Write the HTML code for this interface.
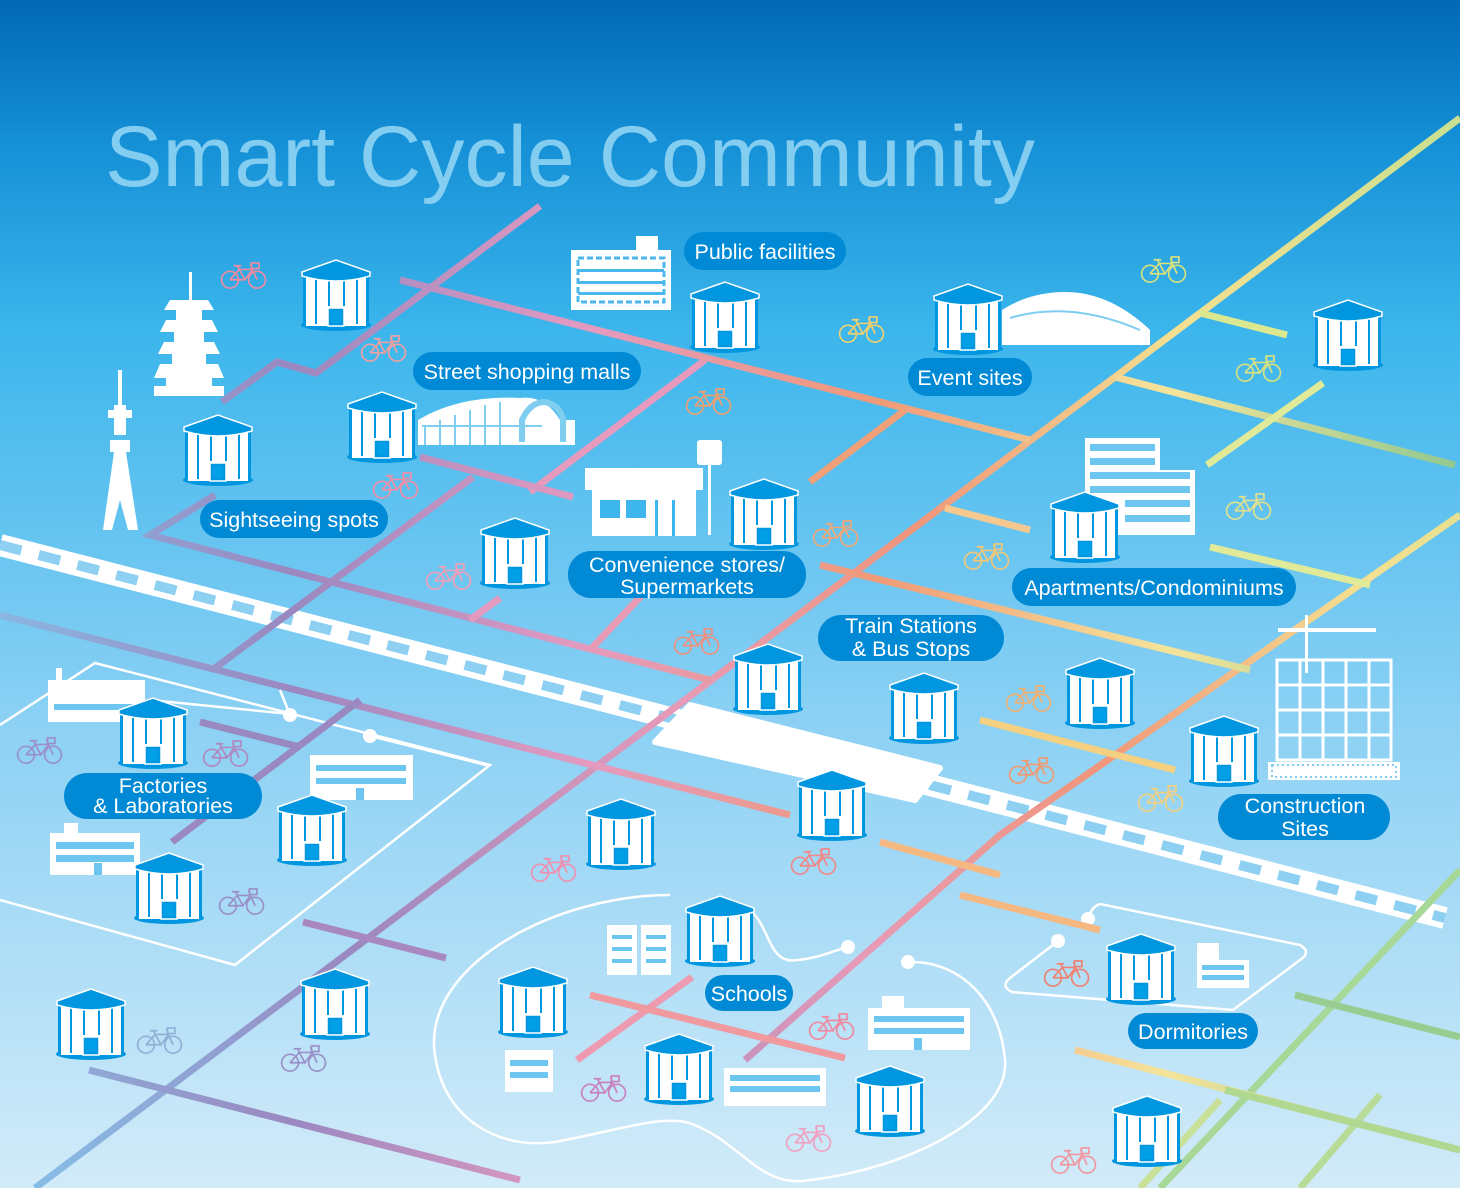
<!DOCTYPE html>
<html><head><meta charset="utf-8"><style>
html,body{margin:0;padding:0}
body{width:1460px;height:1188px;overflow:hidden;font-family:"Liberation Sans",Arial,sans-serif}
</style></head><body>
<svg width="1460" height="1188" viewBox="0 0 1460 1188" xmlns="http://www.w3.org/2000/svg" font-family="Liberation Sans, Arial, sans-serif">
<defs>
<linearGradient id="bg" x1="0" y1="0" x2="0" y2="1">
<stop offset="0" stop-color="#0068b4"/><stop offset="0.12" stop-color="#1590d6"/><stop offset="0.28" stop-color="#3cb6ec"/><stop offset="0.6" stop-color="#8ad0f4"/><stop offset="1" stop-color="#d2ebf9"/>
</linearGradient>
<linearGradient id="gY1" gradientUnits="userSpaceOnUse" x1="35" y1="1188" x2="1460" y2="118">
<stop offset="0" stop-color="#86bde6"/><stop offset="0.22" stop-color="#9a88c0"/><stop offset="0.45" stop-color="#e79ab8"/><stop offset="0.62" stop-color="#f0967a"/><stop offset="0.8" stop-color="#f5e090"/><stop offset="1" stop-color="#c8e090"/>
</linearGradient>
<linearGradient id="gH" gradientUnits="userSpaceOnUse" x1="0" y1="0" x2="1460" y2="0">
<stop offset="0" stop-color="#8ab6e0"/><stop offset="0.2" stop-color="#9a88c0"/><stop offset="0.4" stop-color="#e39ac0"/><stop offset="0.6" stop-color="#f09a78"/><stop offset="0.8" stop-color="#f5e49a"/><stop offset="1" stop-color="#90c890"/>
</linearGradient>
<symbol id="st" viewBox="0 0 72 74">
<ellipse cx="36" cy="67" rx="35" ry="6" fill="#0096e0"/>
<rect x="4" y="16" width="64" height="52" fill="#fff"/>
<rect x="3" y="16" width="3" height="52" fill="#0096e0"/><rect x="66" y="16" width="3" height="52" fill="#0096e0"/>
<rect x="15" y="20" width="2" height="46" fill="#0096e0"/><rect x="28" y="20" width="2" height="46" fill="#0096e0"/><rect x="43" y="20" width="2" height="46" fill="#0096e0"/><rect x="56" y="20" width="2" height="46" fill="#0096e0"/>
<path d="M2,14 L36,2 L70,14 L70,18 Q36,28 2,18 Z" fill="#0096e0" stroke="#fff" stroke-width="1.5"/>
<rect x="26" y="48" width="20" height="20" fill="#fff"/>
<rect x="28" y="50" width="16" height="18" fill="#0096e0" stroke="#fff" stroke-width="1.5"/>
<rect x="31" y="53" width="10" height="12" fill="#00a0e8"/>
</symbol>
<symbol id="bk" viewBox="0 0 50 30" overflow="visible">
<g fill="none" stroke="currentColor" stroke-width="1.8">
<circle cx="10" cy="19" r="9"/><circle cx="39" cy="19" r="9"/>
<path d="M10,19 L20,8 L34,8 L39,19 M20,8 L26,19 L34,8 M26,19 L10,19 M34,8 L32,2 M20,8 L18,4 M14,4 L22,4"/>
<rect x="33" y="1" width="8" height="6"/>
</g>
</symbol>
</defs>
<rect width="1460" height="1188" fill="url(#bg)"/>

<text x="105" y="186" font-size="86" fill="#8fd4f4" opacity="0.9" textLength="930" lengthAdjust="spacingAndGlyphs">Smart Cycle Community</text>

<g fill="none" stroke="#fff" stroke-width="2.5">
<path d="M0,725 L95,663 L490,765 L235,965 L0,900"/>
<path d="M1100,904 L1300,945 Q1312,952 1300,960 L1233,1010 L1012,992 Q1000,986 1010,978 L1058,941"/>
<path d="M1100,904 Q1092,906 1088,919"/>
<path d="M670,895 C560,895 430,960 434,1047 C440,1120 500,1150 555,1142 C620,1130 660,1115 689,1123 C740,1140 760,1190 810,1180 C900,1170 1010,1120 1005,1060 C1000,1000 960,962 912,962"/>
<path d="M753,913 C770,930 770,965 797,960 C820,958 835,950 848,947"/>
<path d="M280,690 L290,715 M150,700 L290,714"/>
<path d="M370,736 L490,766"/>
</g>
<g fill="#fff"><circle cx="290" cy="715" r="7"/><circle cx="370" cy="736" r="7"/><circle cx="848" cy="947" r="7"/><circle cx="908" cy="962" r="7"/><circle cx="1058" cy="941" r="7"/><circle cx="1088" cy="919" r="7"/></g>

<g>
<path d="M0,545 L1445,918" stroke="#fff" stroke-width="22"/>
<path d="M0,545 L1445,918" stroke="#8ed0f2" stroke-width="10" stroke-dasharray="22 18"/>
<polygon points="690,705 940,768 915,800 655,742" fill="#fff" stroke="#fff" stroke-width="6" stroke-linejoin="round"/>
</g>

<g fill="none" stroke-width="7" stroke-linecap="butt" stroke-linejoin="miter">
<path d="M35,1188 L1460,118" stroke="url(#gY1)"/>
<path d="M1460,515 L1000,835 L745,1060" stroke="url(#gY1)"/>
<path d="M1460,870 L1160,1188" stroke="#a8d898"/>
<path d="M1380,1095 L1300,1188" stroke="#b8dc98"/>
<path d="M540,206 L316,373 L277,362 L222,402" stroke="url(#gH)"/>
<path d="M215,495 L150,535 L710,680" stroke="url(#gH)"/>
<path d="M473,477 L215,668" stroke="url(#gH)"/>
<path d="M705,360 L530,492" stroke="#e69abe"/>
<path d="M500,598 L470,620" stroke="#e49ac0"/>
<path d="M645,592 L590,650" stroke="#e89ab4"/>
<path d="M400,280 L1030,440" stroke="url(#gH)"/>
<path d="M905,410 L810,482" stroke="#f0a078"/>
<path d="M0,615 L790,815" stroke="url(#gH)"/>
<path d="M420,457 L573,497" stroke="url(#gH)"/>
<path d="M820,565 L1250,670" stroke="url(#gH)"/>
<path d="M1115,377 L1455,465" stroke="url(#gH)"/>
<path d="M1200,313 L1287,335" stroke="#dce890"/>
<path d="M1323,383 L1207,465" stroke="#e0ea98"/>
<path d="M945,508 L1030,530" stroke="#f5c890"/>
<path d="M1210,547 L1370,585" stroke="#e0ea98"/>
<path d="M980,720 L1175,770" stroke="#f5d080"/>
<path d="M880,842 L1000,875 M960,895 L1100,930" stroke="#f5b880"/>
<path d="M360,700 L172,842" stroke="#9a88c0"/>
<path d="M200,722 L300,747" stroke="#9a88c0"/>
<path d="M303,922 L446,958" stroke="#a888c0"/>
<path d="M89,1070 L520,1180" stroke="url(#gH)"/>
<path d="M692,977 L577,1060" stroke="#ee9ab0"/>
<path d="M590,995 L845,1058" stroke="#f09aa0"/>
<path d="M1075,1050 L1460,1150" stroke="url(#gH)"/>
<path d="M1295,995 L1460,1037" stroke="#98cc90"/>
<path d="M1225,1090 L1460,1150" stroke="#b0d890"/>
<path d="M1220,1100 L1140,1188" stroke="#c8e098"/>
</g>

<g fill="#fff">
<rect x="571" y="250" width="100" height="60"/><rect x="636" y="236" width="22" height="16"/>
<rect x="172" y="300" width="3" height="30" transform="translate(17,-28)"/>
<polygon points="170,300 208,300 214,310 164,310"/><rect x="176" y="310" width="26" height="10"/>
<polygon points="166,320 212,320 218,332 160,332"/><rect x="174" y="332" width="30" height="10"/>
<polygon points="164,342 214,342 220,354 158,354"/><rect x="172" y="354" width="34" height="10"/>
<polygon points="160,364 218,364 224,378 154,378"/><rect x="166" y="378" width="46" height="8"/>
<rect x="154" y="386" width="70" height="10"/>
<rect x="118" y="370" width="4" height="40"/><rect x="114" y="405" width="12" height="30"/>
<rect x="108" y="410" width="24" height="8"/><rect x="110" y="440" width="20" height="12"/>
<polygon points="114,452 126,452 138,530 128,530 120,500 112,530 103,530"/>
<path d="M418,445 L418,420 Q460,395 520,398 Q545,395 560,420 L575,420 L575,445 Z"/>
<rect x="585" y="468" width="118" height="22"/><rect x="592" y="490" width="104" height="46"/>
<rect x="697" y="440" width="25" height="25" rx="3"/><rect x="708" y="465" width="3" height="70"/>
<path d="M1002,345 L1002,310 Q1030,292 1065,292 Q1110,292 1150,330 L1150,345 Z"/>
<rect x="1085" y="438" width="75" height="97"/><rect x="1120" y="470" width="75" height="65"/>
<rect x="1268" y="762" width="132" height="18"/>
<rect x="1278" y="628" width="98" height="4"/><rect x="1305" y="615" width="3" height="58"/>
<rect x="48" y="680" width="97" height="42"/><rect x="56" y="668" width="6" height="14"/>
<rect x="310" y="755" width="103" height="45"/>
<rect x="50" y="833" width="90" height="42"/><rect x="64" y="823" width="14" height="12"/>
<rect x="607" y="925" width="30" height="50"/><rect x="641" y="925" width="30" height="50"/>
<rect x="868" y="1008" width="102" height="42"/><rect x="882" y="996" width="22" height="14"/>
<rect x="724" y="1068" width="102" height="38"/>
<rect x="505" y="1050" width="48" height="42"/>
<rect x="1197" y="943" width="22" height="45"/><rect x="1197" y="960" width="52" height="28"/>
</g>
<g fill="#3cb6ec">
<g fill="#4ab8ec">
<rect x="578" y="258" width="86" height="44" fill="none" stroke="#4ab8ec" stroke-width="3" stroke-dasharray="6 3"/>
<rect x="578" y="269" width="86" height="3"/><rect x="578" y="281" width="86" height="3"/><rect x="578" y="292" width="86" height="3"/>
</g>
<rect x="600" y="500" width="20" height="18"/><rect x="626" y="500" width="20" height="18"/><rect x="655" y="500" width="3" height="36"/><rect x="672" y="500" width="3" height="36"/>
<rect x="422" y="425" width="120" height="2" fill="#7fcef0"/>
<g fill="#6cc6f0">
<rect x="1090" y="444" width="65" height="7"/><rect x="1090" y="458" width="65" height="7"/><rect x="1090" y="472" width="100" height="7"/><rect x="1090" y="486" width="100" height="7"/><rect x="1125" y="500" width="65" height="7"/><rect x="1125" y="515" width="65" height="7"/>
<rect x="54" y="704" width="80" height="6"/><rect x="316" y="765" width="90" height="6"/><rect x="316" y="778" width="90" height="6"/><rect x="356" y="788" width="8" height="12"/>
<rect x="56" y="842" width="78" height="7"/><rect x="56" y="855" width="78" height="7"/><rect x="94" y="863" width="8" height="12"/>
<rect x="612" y="935" width="20" height="4"/><rect x="612" y="947" width="20" height="4"/><rect x="646" y="935" width="20" height="4"/><rect x="646" y="947" width="20" height="4"/><rect x="612" y="959" width="20" height="4"/><rect x="646" y="959" width="20" height="4"/>
<rect x="874" y="1016" width="90" height="6"/><rect x="874" y="1028" width="90" height="6"/><rect x="914" y="1038" width="8" height="12"/>
<rect x="730" y="1075" width="90" height="6"/><rect x="730" y="1086" width="90" height="6"/>
<rect x="510" y="1060" width="38" height="6"/><rect x="510" y="1072" width="38" height="6"/>
<rect x="1202" y="965" width="42" height="5"/><rect x="1202" y="975" width="42" height="5"/>
</g>
</g>
<g fill="none" stroke="#fff" stroke-width="3">
<rect x="1277" y="660" width="114" height="100"/>
<path d="M1300,660 V760 M1323,660 V760 M1346,660 V760 M1369,660 V760 M1277,685 H1391 M1277,710 H1391 M1277,735 H1391"/>
<path d="M425,445 V425 M440,445 V420 M455,445 V415 M470,445 V410 M485,445 V405 M500,445 V402" stroke="#7fcef0" stroke-width="2"/>
<path d="M522,442 V420 Q530,402 545,402 Q560,405 563,420 V442" stroke="#7fcef0" stroke-width="6"/>
<path d="M1010,318 Q1070,300 1140,330" stroke="#7fcef0" stroke-width="2"/>
</g>
<rect x="1272" y="765" width="124" height="12" fill="none" stroke="#7fcef0" stroke-width="2" stroke-dasharray="2 3"/>

<g>
<use href="#st" x="300" y="258" width="72" height="74"/>
<use href="#st" x="689" y="280" width="72" height="74"/>
<use href="#st" x="932" y="282" width="72" height="74"/>
<use href="#st" x="1312" y="298" width="72" height="74"/>
<use href="#st" x="346" y="390" width="72" height="74"/>
<use href="#st" x="182" y="413" width="72" height="74"/>
<use href="#st" x="728" y="477" width="72" height="74"/>
<use href="#st" x="479" y="516" width="72" height="74"/>
<use href="#st" x="1049" y="490" width="72" height="74"/>
<use href="#st" x="732" y="642" width="72" height="74"/>
<use href="#st" x="1064" y="656" width="72" height="74"/>
<use href="#st" x="888" y="671" width="72" height="74"/>
<use href="#st" x="1188" y="714" width="72" height="74"/>
<use href="#st" x="117" y="696" width="72" height="74"/>
<use href="#st" x="796" y="768" width="72" height="74"/>
<use href="#st" x="585" y="797" width="72" height="74"/>
<use href="#st" x="276" y="793" width="72" height="74"/>
<use href="#st" x="133" y="851" width="72" height="74"/>
<use href="#st" x="684" y="894" width="72" height="74"/>
<use href="#st" x="1105" y="932" width="72" height="74"/>
<use href="#st" x="497" y="965" width="72" height="74"/>
<use href="#st" x="299" y="967" width="72" height="74"/>
<use href="#st" x="55" y="987" width="72" height="74"/>
<use href="#st" x="643" y="1032" width="72" height="74"/>
<use href="#st" x="854" y="1064" width="72" height="74"/>
<use href="#st" x="1111" y="1094" width="72" height="74"/>
</g>

<g>
<use href="#bk" x="220" y="262" width="48" height="28" color="#f08aa0"/>
<use href="#bk" x="360" y="335" width="48" height="28" color="#f0a0a0"/>
<use href="#bk" x="372" y="472" width="48" height="28" color="#f090a8"/>
<use href="#bk" x="425" y="563" width="48" height="28" color="#f0a0b8"/>
<use href="#bk" x="685" y="388" width="48" height="28" color="#f0a070"/>
<use href="#bk" x="838" y="316" width="48" height="28" color="#f0d070"/>
<use href="#bk" x="812" y="520" width="48" height="28" color="#f0a878"/>
<use href="#bk" x="963" y="543" width="48" height="28" color="#f0c878"/>
<use href="#bk" x="1140" y="256" width="48" height="28" color="#d8e080"/>
<use href="#bk" x="1235" y="355" width="48" height="28" color="#d8e080"/>
<use href="#bk" x="1225" y="493" width="48" height="28" color="#e0e090"/>
<use href="#bk" x="673" y="628" width="48" height="28" color="#f09080"/>
<use href="#bk" x="1005" y="685" width="48" height="28" color="#f0b070"/>
<use href="#bk" x="1008" y="757" width="48" height="28" color="#f09a70"/>
<use href="#bk" x="1137" y="785" width="48" height="28" color="#f0d080"/>
<use href="#bk" x="16" y="737" width="48" height="28" color="#9a90c8"/>
<use href="#bk" x="202" y="740" width="48" height="28" color="#b088c0"/>
<use href="#bk" x="218" y="888" width="48" height="28" color="#9a90c8"/>
<use href="#bk" x="530" y="855" width="48" height="28" color="#f090b0"/>
<use href="#bk" x="790" y="848" width="48" height="28" color="#f08888"/>
<use href="#bk" x="808" y="1013" width="48" height="28" color="#f088a0"/>
<use href="#bk" x="1043" y="960" width="48" height="28" color="#f08070"/>
<use href="#bk" x="1050" y="1147" width="48" height="28" color="#f098a0"/>
<use href="#bk" x="580" y="1075" width="48" height="28" color="#c880c0"/>
<use href="#bk" x="785" y="1125" width="48" height="28" color="#f0a0c0"/>
<use href="#bk" x="280" y="1045" width="48" height="28" color="#9a90c8"/>
<use href="#bk" x="136" y="1027" width="48" height="28" color="#90b0d8"/>
</g>

<g fill="#008ad6">
<rect x="684" y="232" width="162" height="38" rx="19"/>
<rect x="413" y="352" width="228" height="38" rx="19"/>
<rect x="908" y="358" width="124" height="38" rx="19"/>
<rect x="200" y="500" width="188" height="38" rx="19"/>
<rect x="568" y="551" width="238" height="47" rx="23"/>
<rect x="1012" y="568" width="284" height="38" rx="19"/>
<rect x="818" y="615" width="186" height="46" rx="23"/>
<rect x="64" y="773" width="198" height="46" rx="23"/>
<rect x="1218" y="794" width="172" height="46" rx="23"/>
<rect x="705" y="975" width="88" height="36" rx="18"/>
<rect x="1128" y="1013" width="130" height="36" rx="18"/>
</g>
<g fill="#fff" font-size="21.5" text-anchor="middle">
<text x="765" y="259">Public facilities</text>
<text x="527" y="379">Street shopping malls</text>
<text x="970" y="385">Event sites</text>
<text x="294" y="527">Sightseeing spots</text>
<text x="687" y="572">Convenience stores/</text>
<text x="687" y="594">Supermarkets</text>
<text x="1154" y="595">Apartments/Condominiums</text>
<text x="911" y="633">Train Stations</text>
<text x="911" y="656">&amp; Bus Stops</text>
<text x="163" y="793">Factories</text>
<text x="163" y="813">&amp; Laboratories</text>
<text x="1305" y="813">Construction</text>
<text x="1305" y="836">Sites</text>
<text x="749" y="1001">Schools</text>
<text x="1193" y="1039">Dormitories</text>
</g>
</svg>
</body></html>
